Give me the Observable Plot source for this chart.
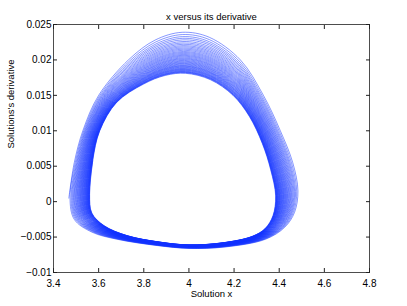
<!DOCTYPE html>
<html><head><meta charset="utf-8">
<script src="https://cdn.jsdelivr.net/npm/d3@7"></script>
<script src="https://cdn.jsdelivr.net/npm/@observablehq/plot@0.6"></script>
<style>body{margin:0;background:#fff}</style>
</head><body><div id="chart"></div>
<script>
// Outermost turn of the spiral, clockwise from the leftmost point
const outerX = [3.468, 3.492, 3.530, 3.600, 3.732, 3.850, 3.970, 4.090, 4.228, 4.330, 4.405, 4.460, 4.483, 4.468, 4.425, 4.340, 4.160, 4.000, 3.860, 3.680, 3.570, 3.492];
const outerY = [0.0005, 0.0055, 0.0100, 0.0150, 0.0200, 0.0228, 0.0239, 0.0232, 0.0200, 0.0150, 0.0100, 0.0055, 0.0015, -0.0015, -0.0036, -0.0053, -0.0064, -0.0066, -0.0062, -0.0053, -0.0043, -0.0025];
// Innermost turn (limit cycle), same ordering
const innerX = [3.560, 3.574, 3.605, 3.680, 3.800, 3.895, 3.985, 4.095, 4.195, 4.268, 4.325, 4.362, 4.384, 4.372, 4.337, 4.280, 4.150, 4.000, 3.870, 3.727, 3.625, 3.570];
const innerY = [0.0010, 0.0058, 0.0100, 0.0140, 0.0166, 0.0178, 0.0181, 0.0172, 0.0150, 0.0120, 0.0082, 0.0045, 0.0008, -0.0020, -0.0038, -0.0049, -0.0058, -0.0061, -0.0057, -0.0048, -0.0034, -0.0016];
// Peak derivative of each successive turn, read at the top of the plot
const loopPeaks = [0.02390, 0.02358, 0.02329, 0.02305, 0.02283, 0.02260, 0.02240, 0.02221, 0.02202, 0.02185, 0.02168, 0.02152, 0.02136, 0.02120, 0.02106, 0.02092, 0.02078, 0.02065, 0.02053, 0.02040, 0.02027, 0.02016, 0.02005, 0.01993, 0.01982, 0.01971, 0.01961, 0.01951, 0.01941, 0.01931, 0.01921, 0.01913, 0.01905, 0.01896, 0.01888, 0.01879, 0.01871, 0.01864, 0.01857, 0.01850, 0.01842, 0.01835, 0.01830, 0.01824, 0.01818, 0.01811];
const xTicks = [3.4, 3.6, 3.8, 4.0, 4.2, 4.4, 4.6, 4.8];
const yTicks = [-0.01, -0.005, 0, 0.005, 0.01, 0.015, 0.02, 0.025];
const title = "x versus its derivative";
const xLabel = "Solution x";
const yLabel = "Solutions's derivative";

// one continuous spiral: each turn follows the shape scaled to its peak
const outerPeak = d3.max(outerY), innerPeak = d3.max(innerY);
const rows = [];
const pushPoint = (t, i) => rows.push({
  x: innerX[i] + t * (outerX[i] - innerX[i]),
  y: innerY[i] + t * (outerY[i] - innerY[i])});
loopPeaks.forEach(p => {
  const t = (p - innerPeak) / (outerPeak - innerPeak);
  outerX.forEach((_, i) => pushPoint(t, i));
});
const tLast = (loopPeaks[loopPeaks.length - 1] - innerPeak) / (outerPeak - innerPeak);
pushPoint(tLast, 0);
pushPoint(tLast, 1);

const fmt = d3.format("~g");
const plot = Plot.plot({
  width: 407, height: 306,
  marginLeft: 53, marginRight: 38, marginTop: 24, marginBottom: 34,
  style: {fontFamily: "'Liberation Sans', Arial, Helvetica, sans-serif", fontSize: "10px", background: "#fff", color: "#000"},
  x: {domain: [3.4, 4.8]},
  y: {domain: [-0.01, 0.025]},
  marks: [
    Plot.line(rows, {x: "x", y: "y", curve: "catmull-rom", stroke: "#1030ff", strokeWidth: 0.5}),
    Plot.frame({stroke: "#222", strokeWidth: 0.8}),
    Plot.axisX({anchor: "bottom", ticks: xTicks, tickSize: -4, tickPadding: 11, tickFormat: fmt, label: null, stroke: "#222"}),
    Plot.axisX({anchor: "top", ticks: xTicks, tickSize: -4, tickFormat: () => "", label: null, stroke: "#222"}),
    Plot.axisY({anchor: "left", ticks: yTicks, tickSize: -4, tickPadding: 6, tickFormat: fmt, label: null, stroke: "#222"}),
    Plot.axisY({anchor: "right", ticks: yTicks, tickSize: -4, tickFormat: () => "", label: null, stroke: "#222"}),
    Plot.text([title], {frameAnchor: "top", dy: -11, fontSize: 9.5}),
    Plot.text([xLabel], {frameAnchor: "bottom", dy: 24, fontSize: 9.5}),
    Plot.text([yLabel], {frameAnchor: "left", dx: -42.5, rotate: -90, fontSize: 9.5})
  ]
});
document.getElementById("chart").appendChild(plot);
</script>
</body></html>
